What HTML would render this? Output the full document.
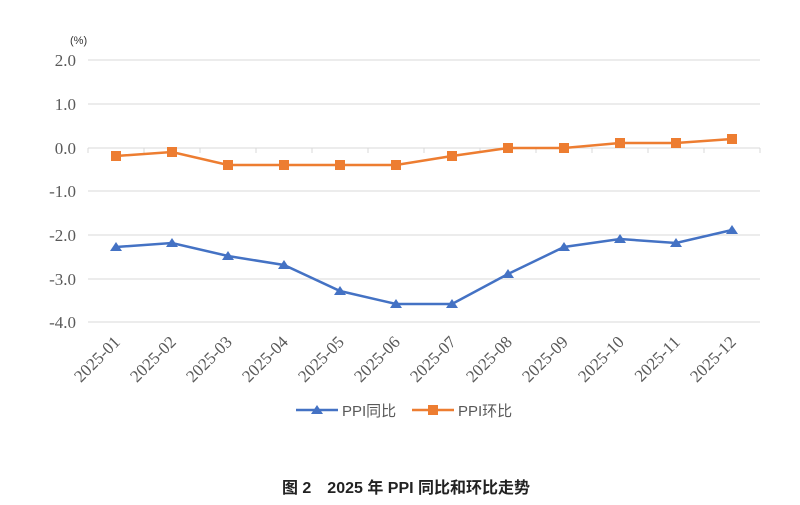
<!DOCTYPE html>
<html><head><meta charset="utf-8"><style>body{margin:0;background:#fff}svg{display:block}</style></head><body>
<svg width="800" height="505" xmlns="http://www.w3.org/2000/svg" font-family="Liberation Serif, serif">
<text x="70" y="44" font-size="11" fill="#333" font-family="Liberation Sans, Noto Sans CJK SC, sans-serif">(%)</text>
<g stroke="#d9d9d9" stroke-width="1">
<line x1="88" y1="60" x2="760" y2="60"/><line x1="88" y1="104" x2="760" y2="104"/>
<line x1="88" y1="191" x2="760" y2="191"/><line x1="88" y1="235" x2="760" y2="235"/>
<line x1="88" y1="279" x2="760" y2="279"/><line x1="88" y1="322" x2="760" y2="322"/>
<line x1="88" y1="148" x2="760" y2="148"/>
<path d="M88 148v5M144 148v5M200 148v5M256 148v5M312 148v5M368 148v5M424 148v5M480 148v5M536 148v5M592 148v5M648 148v5M704 148v5M760 148v5"/>
</g>
<g font-size="17" fill="#595959" text-anchor="end">
<text x="76" y="66">2.0</text><text x="76" y="110">1.0</text><text x="76" y="154">0.0</text>
<text x="76" y="197">-1.0</text><text x="76" y="241">-2.0</text><text x="76" y="285">-3.0</text><text x="76" y="328">-4.0</text>
</g>
<g font-size="17" fill="#595959" text-anchor="end">
<text transform="translate(121,343) rotate(-45)">2025-01</text>
<text transform="translate(177,343) rotate(-45)">2025-02</text>
<text transform="translate(233,343) rotate(-45)">2025-03</text>
<text transform="translate(289,343) rotate(-45)">2025-04</text>
<text transform="translate(345,343) rotate(-45)">2025-05</text>
<text transform="translate(401,343) rotate(-45)">2025-06</text>
<text transform="translate(457,343) rotate(-45)">2025-07</text>
<text transform="translate(513,343) rotate(-45)">2025-08</text>
<text transform="translate(569,343) rotate(-45)">2025-09</text>
<text transform="translate(625,343) rotate(-45)">2025-10</text>
<text transform="translate(681,343) rotate(-45)">2025-11</text>
<text transform="translate(737,343) rotate(-45)">2025-12</text>
</g>
<polyline fill="none" stroke="#4472c4" stroke-width="2.5" points="116,247 172,243 228,256 284,265 340,291 396,304 452,304 508,274 564,247 620,239 676,243 732,230"/>
<g fill="#4472c4">
<path d="M116 242l6 9h-12z"/><path d="M172 238l6 9h-12z"/><path d="M228 251l6 9h-12z"/><path d="M284 260l6 9h-12z"/><path d="M340 286l6 9h-12z"/><path d="M396 299l6 9h-12z"/><path d="M452 299l6 9h-12z"/><path d="M508 269l6 9h-12z"/><path d="M564 242l6 9h-12z"/><path d="M620 234l6 9h-12z"/><path d="M676 238l6 9h-12z"/><path d="M732 225l6 9h-12z"/>
</g>
<polyline fill="none" stroke="#ed7d31" stroke-width="2.5" points="116,156 172,152 228,165 284,165 340,165 396,165 452,156 508,148 564,148 620,143 676,143 732,139"/>
<g fill="#ed7d31">
<rect x="111" y="151" width="10" height="10"/><rect x="167" y="147" width="10" height="10"/><rect x="223" y="160" width="10" height="10"/><rect x="279" y="160" width="10" height="10"/><rect x="335" y="160" width="10" height="10"/><rect x="391" y="160" width="10" height="10"/><rect x="447" y="151" width="10" height="10"/><rect x="503" y="143" width="10" height="10"/><rect x="559" y="143" width="10" height="10"/><rect x="615" y="138" width="10" height="10"/><rect x="671" y="138" width="10" height="10"/><rect x="727" y="134" width="10" height="10"/>
</g>
<line x1="296" y1="410" x2="338" y2="410" stroke="#4472c4" stroke-width="2.5"/>
<path d="M317 405l6 9h-12z" fill="#4472c4"/>
<text x="342" y="416" font-size="15" fill="#595959" font-family="Liberation Sans, Noto Sans CJK SC, sans-serif">PPI同比</text>
<line x1="412" y1="410" x2="454" y2="410" stroke="#ed7d31" stroke-width="2.5"/>
<rect x="428" y="405" width="10" height="10" fill="#ed7d31"/>
<text x="458" y="416" font-size="15" fill="#595959" font-family="Liberation Sans, Noto Sans CJK SC, sans-serif">PPI环比</text>
<text x="406" y="493" font-size="16" font-weight="bold" fill="#222" text-anchor="middle" font-family="Liberation Sans, Noto Sans CJK SC, sans-serif">图 2　2025 年 PPI 同比和环比走势</text>
</svg>
</body></html>
